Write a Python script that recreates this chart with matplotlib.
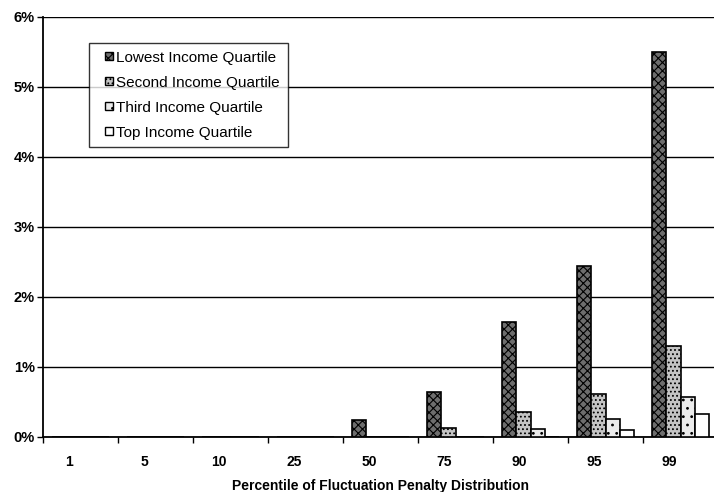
import numpy as np
import matplotlib.pyplot as plt
from matplotlib.patches import Rectangle
from matplotlib.container import BarContainer
from matplotlib.legend_handler import HandlerPatch
from matplotlib.ticker import FuncFormatter

plt.rcParams['font.family'] = ['Liberation Sans', 'DejaVu Sans']
plt.rcParams['hatch.linewidth'] = 0.8

percentiles = ["1", "5", "10", "25", "50", "75", "90", "95", "99"]
lowest = [0, 0, 0, 0, 0.25, 0.65, 1.65, 2.45, 5.5]
second = [0, 0, 0, 0, 0, 0.13, 0.36, 0.61, 1.3]
third = [0, 0, 0, 0, 0, 0, 0.12, 0.26, 0.57]
top = [0, 0, 0, 0, 0, 0, 0, 0.1, 0.33]
series_names = ["Lowest Income Quartile", "Second Income Quartile",
                "Third Income Quartile", "Top Income Quartile"]


def small_square(legend, orig_handle, xdescent, ydescent, width, height, fontsize):
    # little square key at the right end of the handle slot
    s = 0.55 * fontsize
    return Rectangle((-xdescent + width - s, -ydescent + (height - s) / 2), s, s)


def from_first_bar(legend_patch, container):
    legend_patch.update_from(container.patches[0])
    legend_patch.set_linewidth(1.0)


fig = plt.figure(figsize=(7.14, 4.92), dpi=100)
ax = fig.add_axes([43 / 714, 1 - 437 / 492, 675 / 714, 420 / 492])

x = np.arange(len(percentiles))
w = 0.193
styles = [
    dict(facecolor="#6e6e6e", hatch="xxxx"),
    dict(facecolor="#c4c4c4", hatch="...."),
    dict(facecolor="#ebebeb", hatch=".."),
    dict(facecolor="white", hatch=None),
]
for i, (vals, name, st) in enumerate(zip([lowest, second, third, top], series_names, styles)):
    ax.bar(x + (i - 1.5) * w, vals, w, label=name, edgecolor="black",
           linewidth=1.2, zorder=3, **st)

ax.set_xlim(-0.5, len(percentiles) - 0.5)
ax.set_ylim(0, 6)
ax.set_yticks(range(7))
ax.yaxis.set_major_formatter(FuncFormatter(lambda v, p: f"{int(v)}%"))
ax.grid(axis="y", color="black", linewidth=1.0, zorder=0)

# category labels sit slightly left of center, boundary ticks between groups
ax.set_xticks(x - 0.15)
ax.set_xticklabels(percentiles)
ax.set_xticks(np.arange(-0.5, len(percentiles)), minor=True)
ax.tick_params(axis="x", which="major", length=0, pad=13, labelsize=10)
ax.tick_params(axis="x", which="minor", length=4, width=1, direction="out")
ax.tick_params(axis="y", length=4, width=1, labelsize=10.5, pad=2)
for t in ax.get_yticklabels() + ax.get_xticklabels():
    t.set_fontweight("bold")

for s in ["top", "right"]:
    ax.spines[s].set_visible(False)
ax.spines["left"].set_linewidth(1.3)
ax.spines["bottom"].set_linewidth(1.3)

ax.set_xlabel("Percentile of Fluctuation Penalty Distribution", fontsize=10,
              fontweight="bold", labelpad=7)

square_handler = HandlerPatch(patch_func=small_square, update_func=from_first_bar)
leg = ax.legend(loc="upper left", bbox_to_anchor=(46 / 675, 1 - 26 / 420),
                fontsize=11, frameon=True, fancybox=False, edgecolor="black",
                handlelength=1.1, handleheight=0.7, handletextpad=0.2,
                labelspacing=0.72, borderpad=0.5, borderaxespad=0,
                handler_map={BarContainer: square_handler})
leg.get_frame().set_linewidth(1.0)

fig.savefig("out.png", dpi=100)
